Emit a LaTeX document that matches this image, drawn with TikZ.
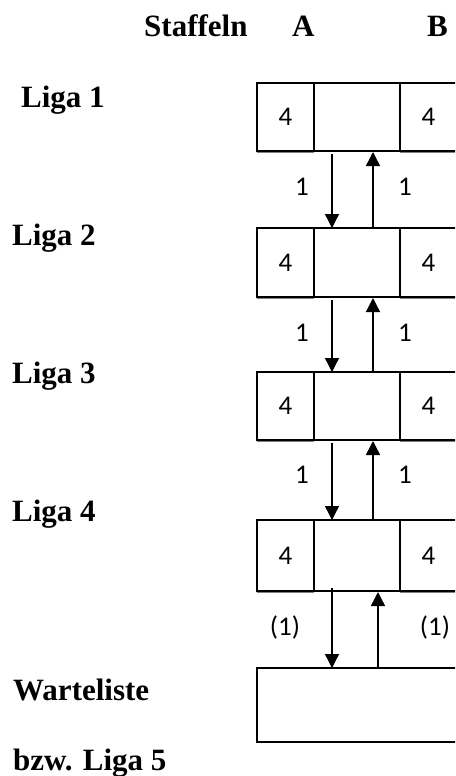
\documentclass[tikz,border=0pt]{standalone}
\usepackage{fontspec}
\setmainfont{Liberation Serif}
\newfontfamily\zahlfont{Carlito}
\usetikzlibrary{calc}
\usetikzlibrary{arrows.meta}
\usetikzlibrary{positioning}

\begin{document}
\begin{tikzpicture}[x=1pt, y=-1pt,
  titel/.style={font=\bfseries\fontsize{31}{36}\selectfont, anchor=base west, inner sep=0pt},
  zelle/.style={draw, line width=1.6pt, inner sep=0pt, outer sep=0pt, anchor=north west, font=\zahlfont\fontsize{27}{32}\selectfont},
  zahl/.style={font=\zahlfont\fontsize{27}{32}\selectfont, inner sep=0pt},
  pfeil/.style={line width=1.4pt, -{Triangle[length=14pt, width=14pt]}}]
\useasboundingbox (0,0) rectangle (455,776);
\clip (0,0) rectangle (455,776);

% Kopfzeile
\node[titel] (staffeln) at (144,37) {Staffeln};
\node[titel] (staffelA) at (292,37) {A};
\node[titel] (staffelB) at (427,37) {B};

% Ligen
\node[titel] (liga1) at (21,107) {Liga 1};
\node[titel] (liga2) at (12,245) {Liga 2};
\node[titel] (liga3) at (12,383) {Liga 3};
\node[titel] (liga4) at (12,521) {Liga 4};
\node[titel] (warte) at (13,700) {Warteliste};
\node[titel] (liga5) at (13,770) {bzw. Liga 5};

\foreach \n/\t/\h in {1/83/68, 2/228/69, 3/372/68, 4/520/71} {
  \node[zelle, minimum width=57pt, minimum height=\h pt] (a\n) at (257,\t) {4};
  \node[zelle, minimum width=86pt, minimum height=\h pt] (m\n) at (a\n.north east) {};
  \node[zelle, minimum width=57pt, minimum height=\h pt] (b\n) at (m\n.north east) {4};
  \draw[gray, line width=1.2pt] ($(a\n.south west)+(0,1.4)$) -- ($(a\n.south east)+(0,1.4)$);
  \draw[gray, line width=1.2pt] ($(b\n.south west)+(0,1.4)$) -- ($(b\n.south east)+(0,1.4)$);
}

% Auf- und Abstieg
\foreach \o/\u/\y in {1/2/187, 2/3/333, 3/4/475} {
  \draw[pfeil] ($(m\o.south west)+(18,3)$) -- ($(m\u.north west)+(18,0)$);
  \draw[pfeil] ($(m\u.north west)+(59,0)$) -- ($(m\o.south west)+(59,1)$);
  \node[zahl] (ab\o) at (302,\y) {1};
  \node[zahl] (auf\o) at (405,\y) {1};
}

% Warteliste
\node[zelle, minimum width=220pt, minimum height=74pt] (wl) at (257,668) {};
\draw[pfeil] ($(m4.south west)+(18,-3)$) -- ($(wl.north west)+(75,0)$);
\draw[pfeil] ($(wl.north west)+(121,0)$) -- ($(m4.south west)+(64,1)$);
\node[zahl] (ab4) at (285,627) {(1)};
\node[zahl] (auf4) at (435,627) {(1)};

\end{tikzpicture}
\end{document}
